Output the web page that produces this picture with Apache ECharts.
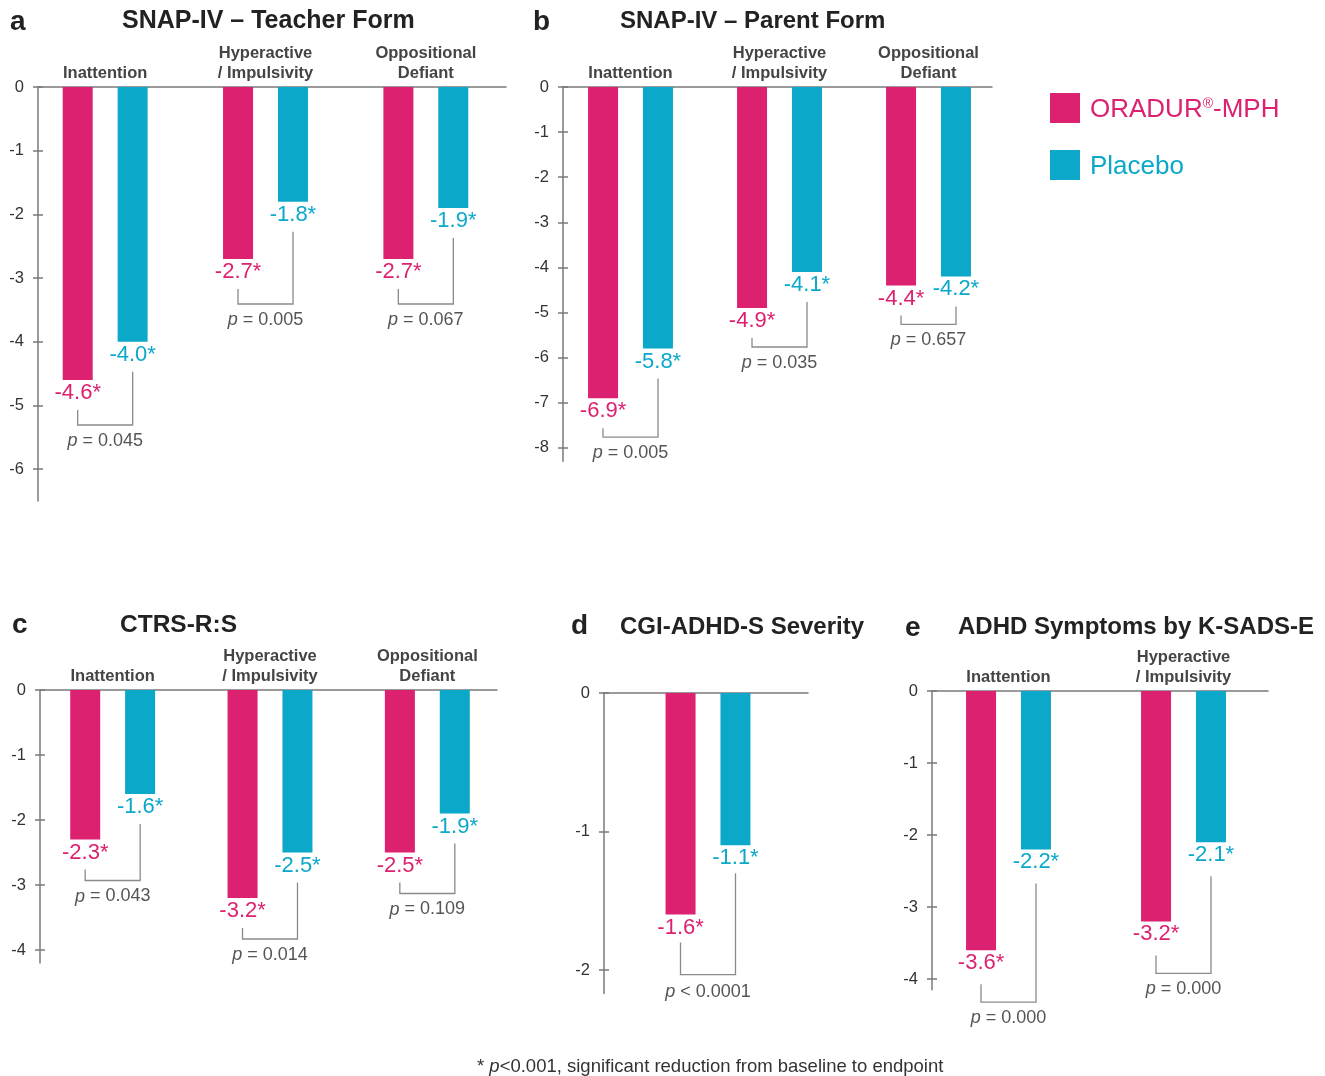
<!DOCTYPE html>
<html>
<head>
<meta charset="utf-8">
<script src="https://cdn.jsdelivr.net/npm/echarts@6/dist/echarts.min.js"></script>
<style>
html,body{margin:0;padding:0;background:#fff;}
#chart{width:1325px;height:1076px;}
</style>
</head>
<body>
<div id="chart"></div>
<script>
// ---------- DATA ----------
const seriesNames = ['ORADUR®-MPH', 'Placebo'];

const catsA = ['Inattention', 'Hyperactive\n/ Impulsivity', 'Oppositional\nDefiant'];
const oradurA = [-4.6, -2.7, -2.7];
const placeboA = [-4.0, -1.8, -1.9];
const pA = ['= 0.045', '= 0.005', '= 0.067'];

const catsB = ['Inattention', 'Hyperactive\n/ Impulsivity', 'Oppositional\nDefiant'];
const oradurB = [-6.9, -4.9, -4.4];
const placeboB = [-5.8, -4.1, -4.2];
const pB = ['= 0.005', '= 0.035', '= 0.657'];

const catsC = ['Inattention', 'Hyperactive\n/ Impulsivity', 'Oppositional\nDefiant'];
const oradurC = [-2.3, -3.2, -2.5];
const placeboC = [-1.6, -2.5, -1.9];
const pC = ['= 0.043', '= 0.014', '= 0.109'];

const catsD = [''];
const oradurD = [-1.6];
const placeboD = [-1.1];
const pD = ['< 0.0001'];

const catsE = ['Inattention', 'Hyperactive\n/ Impulsivity'];
const oradurE = [-3.6, -3.2];
const placeboE = [-2.2, -2.1];
const pE = ['= 0.000', '= 0.000'];

const panelLetters = ['a', 'b', 'c', 'd', 'e'];
const panelTitles = ['SNAP-IV – Teacher Form', 'SNAP-IV – Parent Form', 'CTRS-R:S', 'CGI-ADHD-S Severity', 'ADHD Symptoms by K-SADS-E'];

// ---------- STYLE / LAYOUT ----------
const MAG = '#dc2170';
const TEAL = '#0ba8ca';
const AXIS = '#7a7a7a';
const FONT = '"Liberation Sans", Arial, Helvetica, sans-serif';

const panels = [
  {cats: catsA, orad: oradurA, plac: placeboA, p: pA, axisX: 38, gridL: 25, gridR: 506, lineEnd: 506, top: 87, ppu: 63.7, axisMin: -6.5, tickMin: -6, drop: 45, gap: 30, ptxt: 7},
  {cats: catsB, orad: oradurB, plac: placeboB, p: pB, axisX: 563, gridL: 556, gridR: 1003, lineEnd: 992, top: 87, ppu: 45.1, axisMin: -8.3, tickMin: -8, drop: 39, gap: 30, ptxt: 7},
  {cats: catsC, orad: oradurC, plac: placeboC, p: pC, axisX: 40, gridL: 34, gridR: 506, lineEnd: 497, top: 690, ppu: 65, axisMin: -4.2, tickMin: -4, drop: 41, gap: 30, ptxt: 7},
  {cats: catsD, orad: oradurD, plac: placeboD, p: pD, axisX: 604, gridL: 604, gridR: 812, lineEnd: 808, top: 693, ppu: 138.5, axisMin: -2.17, tickMin: -2, drop: 60, gap: 28, ptxt: 8},
  {cats: catsE, orad: oradurE, plac: placeboE, p: pE, axisX: 932, gridL: 921, gridR: 1271, lineEnd: 1268, top: 691, ppu: 72, axisMin: -4.15, tickMin: -4, drop: 52, gap: 34, ptxt: 7}
];

const letterPos = [[10, 8], [533, 8], [12, 611], [571, 612], [905, 614]];
const titlePos = [[122, 9], [620, 9], [120, 613], [620, 615], [958, 615]];
const titleSize = [25, 24, 24.5, 24, 24];

const option = {
  animation: false,
  backgroundColor: '#fff',
  textStyle: {fontFamily: FONT},
  title: [],
  legend: {
    orient: 'vertical',
    left: 1050, top: 93, padding: 0,
    itemWidth: 30, itemHeight: 30, itemGap: 27,
    icon: 'rect',
    data: seriesNames,
    formatter: function (n) {
      return n === seriesNames[0] ? '{m|ORADUR}{r|®}{m|-MPH}' : '{p|Placebo}';
    },
    textStyle: {
      padding: [3, 0, 0, 5],
      rich: {
        m: {color: MAG, fontSize: 26, fontFamily: FONT},
        r: {color: MAG, fontSize: 14, fontFamily: FONT, padding: [0, 0, 10, 0]},
        p: {color: TEAL, fontSize: 26, fontFamily: FONT}
      }
    }
  },
  grid: [], xAxis: [], yAxis: [], series: []
};

panelLetters.forEach((l, i) => {
  option.title.push({text: l, left: letterPos[i][0], top: letterPos[i][1], padding: 0,
    textStyle: {fontSize: 28, fontWeight: 'bold', color: '#222', fontFamily: FONT}});
  option.title.push({text: panelTitles[i], left: titlePos[i][0], top: titlePos[i][1], padding: 0,
    textStyle: {fontSize: titleSize[i], fontWeight: 'bold', color: '#222', fontFamily: FONT}});
});
option.title.push({
  text: '{a|* }{i|p}{a|<0.001, significant reduction from baseline to endpoint}',
  left: 477, top: 1057, padding: 0,
  textStyle: {rich: {
    a: {fontSize: 18.5, color: '#333', fontWeight: 'normal', fontFamily: FONT},
    i: {fontSize: 18.5, color: '#333', fontWeight: 'normal', fontStyle: 'italic', fontFamily: FONT}
  }}
});

const lineStyle = {color: AXIS, width: 1.5};

panels.forEach((P, k) => {
  const H = -P.axisMin * P.ppu;
  const HT = -P.tickMin * P.ppu;
  option.grid.push({left: P.gridL, top: P.top, width: P.gridR - P.gridL, height: H});
  option.grid.push({left: P.axisX, top: P.top, width: P.lineEnd - P.axisX, height: HT});

  option.xAxis.push({
    gridIndex: 2 * k, type: 'category', data: P.cats, position: 'top',
    axisLine: {show: false}, axisTick: {show: false}, splitLine: {show: false},
    axisLabel: {show: true, interval: 0, fontSize: 16.5, fontWeight: 'bold', color: '#444', lineHeight: 20, margin: 4, fontFamily: FONT}
  });
  option.xAxis.push({
    gridIndex: 2 * k + 1, type: 'value', position: 'top', min: 0, max: 1,
    axisLine: {show: true, onZero: false, lineStyle: lineStyle},
    axisTick: {show: false}, axisLabel: {show: false}, splitLine: {show: false}
  });

  option.yAxis.push({
    gridIndex: 2 * k, type: 'value', position: 'left', min: P.axisMin, max: 0,
    offset: -(P.axisX - P.gridL),
    axisLine: {show: true, onZero: false, lineStyle: lineStyle},
    axisTick: {show: false}, axisLabel: {show: false}, splitLine: {show: false}
  });
  option.yAxis.push({
    gridIndex: 2 * k + 1, type: 'value', position: 'left', min: P.tickMin, max: 0, interval: 1,
    axisLine: {show: false, onZero: false}, splitLine: {show: false},
    axisTick: {show: true, length: 5, lineStyle: lineStyle},
    axisLabel: {fontSize: 16.5, color: '#333', margin: 14, fontFamily: FONT}
  });
  option.yAxis.push({
    gridIndex: 2 * k + 1, type: 'value', position: 'left', offset: 0, min: P.tickMin, max: 0, interval: 1,
    axisLine: {show: false, onZero: false}, splitLine: {show: false},
    axisTick: {show: true, inside: true, length: 5, lineStyle: lineStyle},
    axisLabel: {show: false}
  });

  const mkLabel = (color) => ({
    show: true, position: 'bottom', distance: 2,
    formatter: (p) => p.value.toFixed(1) + '*',
    fontSize: 22, color: color, fontFamily: FONT
  });

  option.series.push({
    name: seriesNames[0], type: 'bar', xAxisIndex: 2 * k, yAxisIndex: 3 * k,
    data: P.orad, barWidth: 30, barGap: '83%',
    itemStyle: {color: MAG}, label: mkLabel(MAG)
  });
  option.series.push({
    name: seriesNames[1], type: 'bar', xAxisIndex: 2 * k, yAxisIndex: 3 * k,
    data: P.plac, barWidth: 30, barGap: '83%',
    itemStyle: {color: TEAL}, label: mkLabel(TEAL)
  });

  option.series.push({
    type: 'custom', xAxisIndex: 2 * k, yAxisIndex: 3 * k, silent: true, z: 5,
    data: P.cats.map((c, i) => [i, P.orad[i], P.plac[i]]),
    encode: {x: 0, y: [1, 2]},
    renderItem: function (params, api) {
      const i = api.value(0);
      const base = api.coord([i, 0]);
      const pm = api.coord([i, api.value(1)]);
      const pp = api.coord([i, api.value(2)]);
      const off = 27.5;
      const xm = base[0] - off, xp = base[0] + off;
      const yh = Math.max(pm[1], pp[1]) + P.drop;
      return {
        type: 'group',
        children: [
          {type: 'polyline',
           shape: {points: [[xm, pm[1] + P.gap], [xm, yh], [xp, yh], [xp, pp[1] + P.gap]]},
           style: {stroke: '#8a8a8a', lineWidth: 1.3, fill: 'none'}},
          {type: 'text', x: base[0], y: yh + P.ptxt,
           style: {
             text: '{i|p}{n| ' + P.p[i] + '}',
             align: 'center', verticalAlign: 'top',
             rich: {
               i: {fontSize: 18, fontStyle: 'italic', fill: '#555', fontFamily: FONT},
               n: {fontSize: 18, fill: '#555', fontFamily: FONT}
             }
           }}
        ]
      };
    }
  });
});

const chart = echarts.init(document.getElementById('chart'), null, {renderer: 'canvas'});
chart.setOption(option);
</script>
</body>
</html>
